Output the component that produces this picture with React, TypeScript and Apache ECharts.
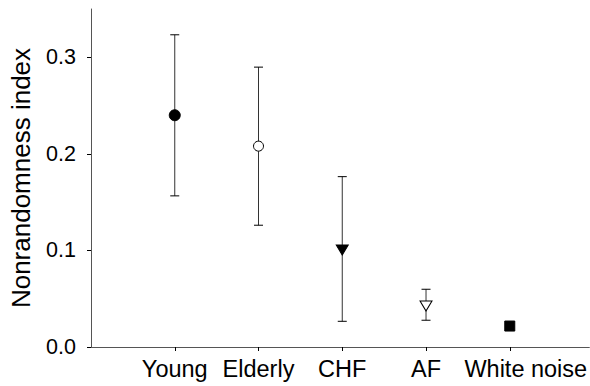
import React, { useEffect, useRef } from "react";
import * as echarts from "echarts";

const categories = ["Young", "Elderly", "CHF", "AF", "White noise"];
const positions = [1, 2, 3, 4, 5];
const means = [0.24, 0.208, 0.1005, 0.0425, 0.0217];
const upper: (number | null)[] = [0.3233, 0.2898, 0.1764, 0.0598, null];
const lower: (number | null)[] = [0.1565, 0.1261, 0.0266, 0.0277, null];
const yTicks = [0, 0.1, 0.2, 0.3];

const markerStyles = [
  { symbol: "circle", size: 11, rotate: 0, fill: "#000" },
  { symbol: "circle", size: 10, rotate: 0, fill: "#fff" },
  { symbol: "triangle", size: [12, 10], rotate: 180, fill: "#000" },
  { symbol: "triangle", size: [12, 10], rotate: 180, fill: "#fff" },
  { symbol: "rect", size: 10, rotate: 0, fill: "#000" },
];

const FONT = "'Liberation Sans', Arial, Helvetica, sans-serif";

export default function App() {
  const ref = useRef<HTMLDivElement>(null);
  useEffect(() => {
    if (!ref.current) return;
    const chart = echarts.init(ref.current, null, { renderer: "svg" });
    const errData = positions
      .map((p, i) => (upper[i] != null && lower[i] != null ? [p, means[i], upper[i], lower[i]] : null))
      .filter((d) => d != null);
    const scatterData = positions.map((p, i) => {
      const m = markerStyles[i];
      return {
        value: [p, means[i]],
        symbol: m.symbol,
        symbolSize: m.size,
        symbolRotate: m.rotate,
        itemStyle: { color: m.fill, borderColor: "#000", borderWidth: 1, opacity: 1 },
      };
    });
    const lastIdx = categories.length - 1;
    chart.setOption({
      animation: false,
      grid: { left: 90, right: 0, top: 9, bottom: 39 },
      xAxis: {
        type: "value",
        min: 0,
        max: 5.95,
        interval: 1,
        splitLine: { show: false },
        axisLine: { show: true, lineStyle: { color: "#555", width: 1 } },
        axisTick: { show: true, length: 4, customValues: positions, lineStyle: { color: "#000" } },
        axisLabel: {
          customValues: positions,
          margin: 10,
          fontSize: 23.5,
          fontFamily: FONT,
          color: "#000",
          formatter: (v: number) => {
            const i = Math.round(v) - 1;
            const name = categories[i] ?? "";
            return i === lastIdx ? `{shift|${name}}` : name;
          },
          rich: {
            shift: {
              fontSize: 23.5,
              fontFamily: FONT,
              color: "#000",
              padding: [0, 0, 0, 32],
            },
          },
        },
      },
      yAxis: {
        type: "value",
        min: 0,
        max: 0.35,
        interval: 0.1,
        name: "Nonrandomness index",
        nameLocation: "middle",
        nameGap: 57,
        nameTextStyle: { fontSize: 26, fontFamily: FONT, color: "#000" },
        splitLine: { show: false },
        axisLine: { show: true, lineStyle: { color: "#555", width: 1 } },
        axisTick: { show: true, length: 4, customValues: yTicks, lineStyle: { color: "#000" } },
        axisLabel: {
          customValues: yTicks,
          margin: 15,
          fontSize: 21.5,
          fontFamily: FONT,
          color: "#000",
          formatter: (v: number) => v.toFixed(1),
        },
      },
      series: [
        {
          type: "custom",
          data: errData,
          z: 1,
          renderItem: (params: any, api: any) => {
            const x = api.value(0);
            const hi = api.coord([x, api.value(2)]);
            const lo = api.coord([x, api.value(3)]);
            const hw = 4.5;
            const st = { stroke: "#333", lineWidth: 1 };
            return {
              type: "group",
              children: [
                { type: "line", shape: { x1: hi[0], y1: hi[1], x2: lo[0], y2: lo[1] }, style: st },
                { type: "line", shape: { x1: hi[0] - hw, y1: hi[1], x2: hi[0] + hw, y2: hi[1] }, style: { stroke: "#000", lineWidth: 1 } },
                { type: "line", shape: { x1: lo[0] - hw, y1: lo[1], x2: lo[0] + hw, y2: lo[1] }, style: { stroke: "#000", lineWidth: 1 } },
              ],
            };
          },
        },
        {
          type: "scatter",
          z: 3,
          data: scatterData,
        },
      ],
    });
    return () => chart.dispose();
  }, []);
  return <div ref={ref} style={{ width: 590, height: 386, position: "absolute", left: 0, top: 0 }} />;
}
